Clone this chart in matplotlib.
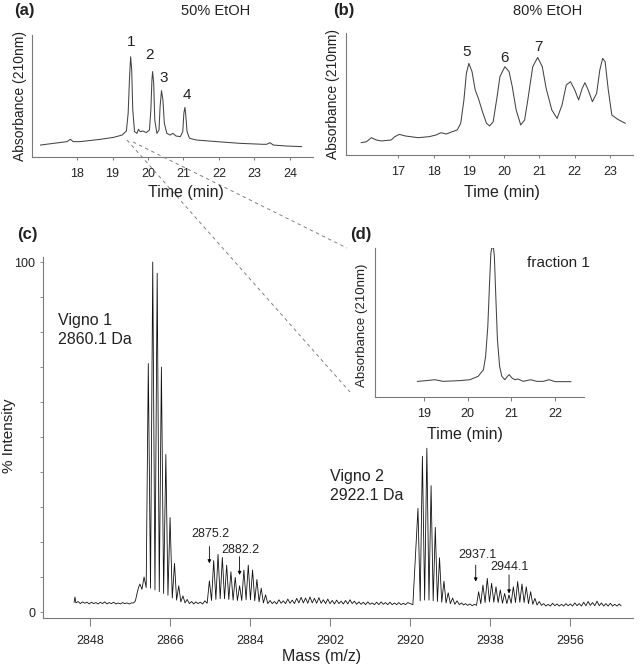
import matplotlib
matplotlib.use('Agg')
import matplotlib.pyplot as plt
from matplotlib.lines import Line2D

plt.rcParams['font.family'] = ['Liberation Sans', 'DejaVu Sans']

# ---------------- data ----------------
# (a) 50% EtOH chromatogram (time, absorbance)
a_points = [(16.97, 0.098), (17.34, 0.112), (17.72, 0.126), (17.81, 0.145), (17.89, 0.126),
            (18.09, 0.126), (18.66, 0.145), (19.03, 0.161), (19.27, 0.180), (19.39, 0.213),
            (19.44, 0.358), (19.48, 0.658), (19.51, 0.822), (19.54, 0.713), (19.57, 0.385),
            (19.62, 0.208), (19.69, 0.194), (19.73, 0.227), (19.78, 0.208), (19.86, 0.213),
            (19.95, 0.200), (20.04, 0.221), (20.08, 0.385), (20.11, 0.631), (20.13, 0.700),
            (20.16, 0.604), (20.19, 0.303), (20.25, 0.194), (20.31, 0.221), (20.34, 0.413),
            (20.38, 0.544), (20.42, 0.467), (20.46, 0.276), (20.53, 0.194), (20.62, 0.180),
            (20.70, 0.194), (20.79, 0.172), (20.91, 0.167), (20.98, 0.208), (21.01, 0.358),
            (21.04, 0.407), (21.06, 0.358), (21.10, 0.208), (21.17, 0.153), (21.37, 0.139),
            (21.94, 0.126), (22.59, 0.112), (23.25, 0.104), (23.34, 0.104), (23.44, 0.117),
            (23.53, 0.098), (23.90, 0.090), (24.33, 0.085)]
a_peak_labels = ['1', '2', '3', '4']
a_peak_label_t = [19.53, 20.05, 20.44, 21.09]
a_peak_label_v = [0.945, 0.836, 0.645, 0.508]
a_ticks = [18, 19, 20, 21, 22, 23, 24]

# (b) 80% EtOH chromatogram
b_points = [(15.95, 0.101), (16.10, 0.109), (16.24, 0.142), (16.38, 0.123), (16.52, 0.115),
            (16.80, 0.123), (16.90, 0.150), (17.03, 0.169), (17.20, 0.156), (17.56, 0.142),
            (17.87, 0.150), (18.07, 0.164), (18.21, 0.183), (18.36, 0.172), (18.53, 0.191),
            (18.67, 0.205), (18.77, 0.260), (18.86, 0.451), (18.93, 0.669), (19.00, 0.751),
            (19.09, 0.683), (19.18, 0.533), (19.27, 0.464), (19.40, 0.342), (19.50, 0.260),
            (19.59, 0.238), (19.69, 0.273), (19.80, 0.478), (19.88, 0.642), (20.02, 0.724),
            (20.14, 0.683), (20.23, 0.560), (20.34, 0.369), (20.47, 0.246), (20.58, 0.287),
            (20.67, 0.451), (20.81, 0.724), (20.95, 0.800), (21.08, 0.724), (21.19, 0.546),
            (21.35, 0.369), (21.50, 0.300), (21.64, 0.410), (21.76, 0.574), (21.88, 0.601),
            (22.00, 0.533), (22.11, 0.451), (22.21, 0.546), (22.29, 0.593), (22.38, 0.533),
            (22.50, 0.437), (22.62, 0.505), (22.71, 0.697), (22.79, 0.792), (22.86, 0.765),
            (22.95, 0.533), (23.05, 0.328), (23.22, 0.292), (23.43, 0.260)]
b_peak_labels = ['5', '6', '7']
b_peak_label_t = [18.94, 20.02, 20.97]
b_peak_label_v = [0.847, 0.793, 0.888]
b_ticks = [17, 18, 19, 20, 21, 22, 23]

# (d) fraction 1 chromatogram
d_points = [(18.85, 0.105), (19.06, 0.110), (19.25, 0.116), (19.44, 0.105), (19.82, 0.110),
            (20.05, 0.116), (20.24, 0.139), (20.36, 0.183), (20.41, 0.273), (20.46, 0.474),
            (20.50, 0.765), (20.53, 0.966), (20.55, 1.000), (20.59, 1.000), (20.61, 0.944),
            (20.64, 0.698), (20.68, 0.385), (20.73, 0.206), (20.78, 0.139), (20.85, 0.116),
            (20.91, 0.139), (20.95, 0.150), (21.01, 0.128), (21.08, 0.116), (21.15, 0.121),
            (21.27, 0.105), (21.44, 0.116), (21.58, 0.105), (21.73, 0.105), (21.86, 0.116),
            (22.00, 0.103), (22.36, 0.103)]
d_ticks = [19, 20, 21, 22]

# (c) mass spectrum: baseline before Vigno 1 (m/z, % intensity)
c_left_baseline = [(2844.4, 2.8), (2844.6, 4.3), (2844.8, 2.6), (2845.3, 3.0), (2845.8, 2.4),
                   (2846.3, 2.9), (2846.8, 2.5), (2847.3, 2.8), (2847.8, 2.3), (2848.3, 2.8),
                   (2848.8, 2.4), (2849.3, 2.7), (2849.8, 2.3), (2850.3, 2.8), (2850.8, 2.4),
                   (2851.3, 2.9), (2851.8, 2.3), (2852.3, 2.7), (2852.8, 2.4), (2853.3, 2.8),
                   (2853.8, 2.3), (2854.3, 2.6), (2854.8, 2.3), (2855.3, 2.7), (2855.8, 2.4),
                   (2856.3, 2.6), (2856.8, 2.3), (2857.3, 2.6), (2857.8, 2.6), (2858.2, 3.2),
                   (2858.6, 5.5), (2858.9, 7.0)]
# isotope / ripple peaks: m/z, height, valley after the peak
vigno1_mz = [2859.2, 2860.15, 2861.1, 2862.1, 2863.1, 2864.05, 2865.05, 2866.0, 2867.0,
             2867.95, 2868.9, 2869.85, 2870.85, 2871.8, 2872.8, 2873.85]
vigno1_int = [8.0, 10.0, 71.0, 100.0, 96.8, 70.0, 45.0, 27.0, 13.9, 7.5, 4.6, 3.6,
              3.0, 2.9, 2.8, 3.2]
vigno1_valley = [6.5, 7.0, 6.8, 6.3, 5.8, 5.3, 4.8, 4.0, 3.4, 2.9, 2.6, 2.4,
                 2.3, 2.4, 2.3, 2.5]
sat1_mz = [2874.85, 2875.82, 2876.8, 2877.77, 2878.74, 2879.7, 2880.67, 2881.65,
           2882.62, 2883.6, 2884.57, 2885.55, 2886.52, 2887.5]
sat1_int = [8.9, 14.7, 16.5, 15.6, 13.4, 11.5, 9.9, 7.5, 12.0, 13.4, 12.0, 9.3, 6.8, 4.9]
sat1_valley = [3.3, 3.6, 3.8, 3.8, 3.6, 3.4, 3.3, 3.3, 3.5, 3.5, 3.2, 2.9, 2.6, 2.4]
ripple_mz = [2888.5, 2889.5, 2890.5, 2891.5, 2892.5, 2893.5, 2894.5, 2895.5, 2896.5,
             2897.5, 2898.5, 2899.5, 2900.5, 2901.5, 2902.5, 2903.5, 2904.5, 2905.5,
             2906.5, 2907.5, 2908.5, 2909.5, 2910.5, 2911.5, 2912.5, 2913.5, 2914.5,
             2915.5, 2916.5, 2917.5, 2918.5, 2919.5]
ripple_int = [3.3, 3.0, 3.5, 3.2, 3.7, 3.4, 3.9, 4.2, 4.0, 4.3, 3.9, 4.1, 3.5, 3.7, 3.3,
              3.4, 3.1, 3.3, 3.5, 3.1, 2.9, 2.8, 2.9, 2.6, 2.8, 2.9, 2.7, 2.8, 2.6, 2.7,
              2.5, 2.7]
ripple_valley = [2.4, 2.3, 2.5, 2.4, 2.5, 2.4, 2.6, 2.6, 2.5, 2.6, 2.5, 2.5, 2.4, 2.4, 2.3,
                 2.4, 2.3, 2.3, 2.4, 2.2, 2.2, 2.1, 2.2, 2.1, 2.1, 2.2, 2.1, 2.1, 2.1, 2.1,
                 2.1, 2.1]
vigno2_mz = [2921.8, 2922.8, 2923.8, 2924.75, 2925.7, 2926.65, 2927.65, 2928.6, 2929.6,
             2930.6, 2931.6, 2932.5, 2933.5, 2934.5]
vigno2_int = [29.6, 44.5, 46.8, 36.1, 24.2, 15.5, 8.8, 5.5, 4.0, 3.2, 2.6, 2.4, 2.3, 2.2]
vigno2_valley = [3.2, 3.4, 3.4, 3.2, 3.0, 2.8, 2.6, 2.4, 2.2, 2.1, 2.0, 1.9, 1.8, 1.9]
sat2_mz = [2935.45, 2936.42, 2937.4, 2938.38, 2939.36, 2940.33, 2941.31, 2942.29,
           2943.26, 2944.24, 2945.21, 2946.18, 2947.16, 2948.13, 2949.1]
sat2_int = [5.8, 7.7, 9.6, 8.2, 7.2, 6.3, 5.3, 4.9, 7.2, 8.7, 8.0, 7.2, 5.8, 3.9, 3.0]
sat2_valley = [2.4, 2.7, 2.9, 2.8, 2.7, 2.5, 2.4, 2.5, 2.7, 2.8, 2.7, 2.4, 2.2, 2.0, 1.9]
tail_mz = [2950.1, 2951.1, 2952.1, 2953.1, 2954.1, 2955.1, 2956.1, 2957.1, 2958.1,
           2959.1, 2960.1, 2961.1, 2962.1, 2963.1, 2964.1, 2965.1, 2966.1, 2967.1]
tail_int = [2.4, 2.2, 2.5, 2.3, 2.2, 2.4, 2.3, 2.6, 2.4, 2.8, 3.0, 2.7, 3.1, 2.6, 2.4,
            2.5, 2.2, 2.3]
tail_valley = [1.7, 1.7, 1.8, 1.7, 1.7, 1.8, 1.7, 1.8, 1.7, 1.8, 1.9, 1.8, 1.8, 1.7, 1.7,
               1.7, 1.7, 1.8]

c_ticks = [2848, 2866, 2884, 2902, 2920, 2938, 2956]
c_yticks = [0, 10, 20, 30, 40, 50, 60, 70, 80, 90, 100]

ann_labels = ['2875.2', '2882.2', '2937.1', '2944.1']
ann_mz = [2874.85, 2881.65, 2934.8, 2942.3]
ann_tail = [18.7, 15.8, 13.4, 10.6]
ann_tip = [13.9, 10.6, 8.7, 5.3]
ann_text_mz = [2875.0, 2881.8, 2935.2, 2942.3]
ann_text_y = [22.2, 17.7, 16.3, 12.9]

# ---------------- figure ----------------
W, H = 640, 668
fig = plt.figure(figsize=(6.4, 6.68), dpi=100)


def rect(l, t, r, b):
    return [l / W, 1 - b / H, (r - l) / W, (b - t) / H]


def ftext(x, y, s, **kw):
    kw.setdefault('ha', 'center')
    kw.setdefault('va', 'center')
    fig.text(x / W, 1 - y / H, s, **kw)


SPINE = '#7a7a7a'
TXT = '#222222'
TRACE = '#444444'


def style_chrom(ax, ticks, xlim, ticklen=3, pad=5):
    for s in ('top', 'right'):
        ax.spines[s].set_visible(False)
    for s in ('left', 'bottom'):
        ax.spines[s].set_color(SPINE)
        ax.spines[s].set_linewidth(0.8)
    ax.set_xlim(*xlim)
    ax.set_ylim(0, 1)
    ax.set_yticks([])
    ax.set_xticks(ticks)
    ax.tick_params(axis='x', length=ticklen, width=0.7, color=SPINE, labelsize=9,
                   labelcolor=TXT, pad=pad)
    ax.patch.set_alpha(0)


# (a)
ax_a = fig.add_axes(rect(32, 35, 313, 157))
style_chrom(ax_a, a_ticks, (16.73, 24.65), ticklen=2, pad=6)
ax_a.plot([p[0] for p in a_points], [p[1] for p in a_points], color=TRACE, lw=0.75)
for lab, t, v in zip(a_peak_labels, a_peak_label_t, a_peak_label_v):
    ax_a.text(t, v, lab, ha='center', va='center', fontsize=11, color=TXT)

# (b)
ax_b = fig.add_axes(rect(346, 33, 633, 155))
style_chrom(ax_b, b_ticks, (15.52, 23.65), ticklen=2, pad=6)
ax_b.plot([p[0] for p in b_points], [p[1] for p in b_points], color=TRACE, lw=0.75)
for lab, t, v in zip(b_peak_labels, b_peak_label_t, b_peak_label_v):
    ax_b.text(t, v, lab, ha='center', va='center', fontsize=11, color=TXT)

# (c)
ax_c = fig.add_axes(rect(43, 257, 633, 618))
ax_c.patch.set_alpha(0)
for s in ('top', 'right'):
    ax_c.spines[s].set_visible(False)
for s in ('left', 'bottom'):
    ax_c.spines[s].set_color(SPINE)
    ax_c.spines[s].set_linewidth(0.8)
ax_c.set_xlim(2837.4, 2970.2)
ax_c.set_ylim(-1.71, 101.43)
ax_c.set_xticks(c_ticks)
ax_c.set_yticks(c_yticks)
ax_c.set_yticklabels(['0' if v == 0 else ('100' if v == 100 else '') for v in c_yticks])
ax_c.tick_params(axis='x', length=6, width=0.7, color=SPINE, labelsize=9, labelcolor=TXT, pad=6)
ax_c.tick_params(axis='y', length=2.5, width=0.6, color=SPINE, labelsize=9, labelcolor=TXT, pad=3)

# build spectrum polyline from baseline + peak/valley lists
mz_all = [p[0] for p in c_left_baseline]
int_all = [p[1] for p in c_left_baseline]
peak_mz = vigno1_mz + sat1_mz + ripple_mz + vigno2_mz + sat2_mz + tail_mz
peak_int = vigno1_int + sat1_int + ripple_int + vigno2_int + sat2_int + tail_int
peak_val = vigno1_valley + sat1_valley + ripple_valley + vigno2_valley + sat2_valley + tail_valley
for i, (m, h, v) in enumerate(zip(peak_mz, peak_int, peak_val)):
    mz_all.append(m)
    int_all.append(h)
    nxt = peak_mz[i + 1] if i + 1 < len(peak_mz) else m + 0.8
    mz_all.append((m + nxt) / 2)
    int_all.append(v)
ax_c.plot(mz_all, int_all, color='#111111', lw=0.6)

for lab, m, tl, tp, tm, ty in zip(ann_labels, ann_mz, ann_tail, ann_tip, ann_text_mz, ann_text_y):
    ax_c.annotate('', xy=(m, tp), xytext=(m, tl),
                  arrowprops=dict(arrowstyle='-|>', lw=0.6, color='black',
                                  mutation_scale=5, shrinkA=0, shrinkB=0))
    ax_c.text(tm, ty, lab, ha='center', va='center', fontsize=9, color=TXT)

# (d)
ax_d = fig.add_axes(rect(375, 248, 584, 397))
style_chrom(ax_d, d_ticks, (17.88, 22.66), ticklen=3, pad=5)
ax_d.plot([p[0] for p in d_points], [p[1] for p in d_points], color=TRACE, lw=0.75)

# dashed connector lines
for (x0, y0, x1, y1) in [(127, 140, 350, 392), (133, 142, 347, 248)]:
    fig.add_artist(Line2D([x0 / W, x1 / W], [1 - y0 / H, 1 - y1 / H], transform=fig.transFigure,
                          color='#808080', lw=0.7, ls=(0, (3.5, 3.5))))

# texts
ftext(24, 11, '(a)', fontsize=12, fontweight='bold', color=TXT)
ftext(216, 11, '50% EtOH', fontsize=10.5, color=TXT)
ftext(344, 11, '(b)', fontsize=12, fontweight='bold', color=TXT)
ftext(548, 11, '80% EtOH', fontsize=10.5, color=TXT)
ftext(20, 96, 'Absorbance (210nm)', rotation=90, fontsize=10, color=TXT)
ftext(333, 94, 'Absorbance (210nm)', rotation=90, fontsize=10, color=TXT)
ftext(186, 193, 'Time (min)', fontsize=11.5, color=TXT)
ftext(502, 193, 'Time (min)', fontsize=11.5, color=TXT)
ftext(27, 234, '(c)', fontsize=12, fontweight='bold', color=TXT)
ftext(361, 234, '(d)', fontsize=12, fontweight='bold', color=TXT)
ftext(9, 436, '% Intensity', rotation=90, fontsize=11, color=TXT)
ftext(322, 657, 'Mass (m/z)', fontsize=11.5, color=TXT)
ftext(58, 320, 'Vigno 1', ha='left', fontsize=11.5, color=TXT)
ftext(58, 339, '2860.1 Da', ha='left', fontsize=11.5, color=TXT)
ftext(330, 477, 'Vigno 2', ha='left', fontsize=11.5, color=TXT)
ftext(330, 496, '2922.1 Da', ha='left', fontsize=11.5, color=TXT)
ftext(558, 263, 'fraction 1', fontsize=11, color=TXT)
ftext(362, 325, 'Absorbance (210nm)', rotation=90, fontsize=9.5, color=TXT)
ftext(465, 435, 'Time (min)', fontsize=11.5, color=TXT)

fig.savefig('out.png', dpi=100)
